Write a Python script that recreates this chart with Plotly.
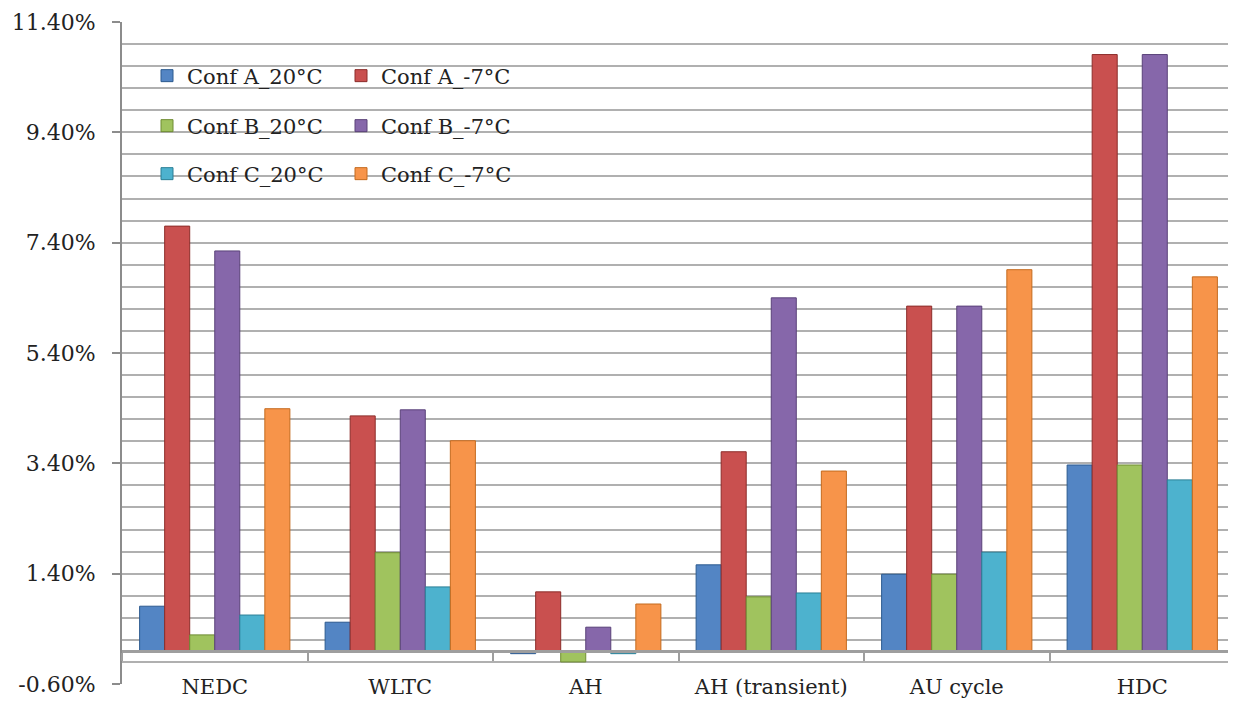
import plotly.graph_objects as go

categories = ["NEDC", "WLTC", "AH", "AH (transient)", "AU cycle", "HDC"]
series_names = ["Conf A_20°C", "Conf A_-7°C", "Conf B_20°C", "Conf B_-7°C", "Conf C_20°C", "Conf C_-7°C"]

conf_a_20 = [0.81, 0.52, -0.05, 1.56, 1.39, 3.37]
conf_a_m7 = [7.70, 4.26, 1.07, 3.61, 6.25, 10.81]
conf_b_20 = [0.29, 1.78, -0.20, 0.98, 1.39, 3.37]
conf_b_m7 = [7.25, 4.37, 0.43, 6.40, 6.25, 10.81]
conf_c_20 = [0.65, 1.16, -0.05, 1.05, 1.79, 3.10]
conf_c_m7 = [4.39, 3.81, 0.85, 3.26, 6.91, 6.78]

tick_values = [-0.6, 1.4, 3.4, 5.4, 7.4, 9.4, 11.4]

series_values = [conf_a_20, conf_a_m7, conf_b_20, conf_b_m7, conf_c_20, conf_c_m7]
colors = ["#5385C4", "#C9504F", "#A0C35E", "#8667AA", "#4DB2CE", "#F7944A"]
edges = ["#2C5A8F", "#8C2D2A", "#6F8C33", "#5A4279", "#2A7F96", "#C46A1E"]

FONT = "DejaVu Serif"
TXT = "#222222"

fig = go.Figure()
legend_ids = ["legend", "legend2", "legend3", "legend4", "legend5", "legend6"]
for name, vals, c, e, lg in zip(series_names, series_values, colors, edges, legend_ids):
    fig.add_trace(go.Bar(
        x=categories, y=vals, name=name,
        marker=dict(color=c, line=dict(color=e, width=1)),
        legend=lg,
    ))

# page body has an 8px margin: figure drawn from (8, 8)
OFF = 8
FW, FH = 1236 - OFF, 702 - OFF
W0, W1, H0, H1 = 122 - OFF, 1235 - OFF, 22 - OFF, 684 - OFF
pw, ph = W1 - W0, H1 - H0

def px_x(px):
    return (px - OFF - W0) / pw

def px_y(py):
    return (H1 - (py - OFF)) / ph

row_y = [76, 126, 174]
col_x = [147, 341]
legend_layout = {}
for i, lg in enumerate(legend_ids):
    r, c = i // 2, i % 2
    legend_layout[lg] = dict(
        x=px_x(col_x[c]), y=px_y(row_y[r]), xanchor="left", yanchor="middle",
        bgcolor="rgba(0,0,0,0)", borderwidth=0,
        font=dict(family=FONT, size=21, color=TXT),
    )

fig.update_layout(
    width=FW, height=FH,
    margin=dict(l=W0, r=FW - W1, t=H0, b=FH - H1, autoexpand=False),
    paper_bgcolor="white", plot_bgcolor="white",
    barmode="group", bargap=0.19, bargroupgap=0.0,
    showlegend=True,
    font=dict(family=FONT, size=21, color=TXT),
    **legend_layout,
)

fig.update_yaxes(
    range=[-0.6, 11.4],
    automargin=False,
    tickvals=tick_values,
    ticktext=[f"{v:.2f}%" for v in tick_values],
    ticks="outside", ticklen=8, tickwidth=2, tickcolor="#8C8C8C",
    ticklabelstandoff=12,
    tickfont=dict(family=FONT, size=22, color=TXT),
    showgrid=True, gridcolor="#B0B0B0", gridwidth=1.5,
    minor=dict(dtick=0.4, tick0=-0.6, showgrid=True, gridcolor="#B0B0B0", gridwidth=1.5, ticks=""),
    showline=True, linecolor="#8C8C8C", linewidth=2,
    zeroline=False,
)

fig.update_xaxes(
    type="category",
    automargin=False,
    anchor="free", position=0.05,
    showline=True, linecolor="#9E9E9E", linewidth=2.5,
    ticks="outside", tickson="boundaries", ticklen=8, tickwidth=2, tickcolor="#9E9E9E",
    ticklabelstandoff=16,
    tickfont=dict(family=FONT, size=21, color=TXT),
    showgrid=False,
)

fig.write_html("out.html")
